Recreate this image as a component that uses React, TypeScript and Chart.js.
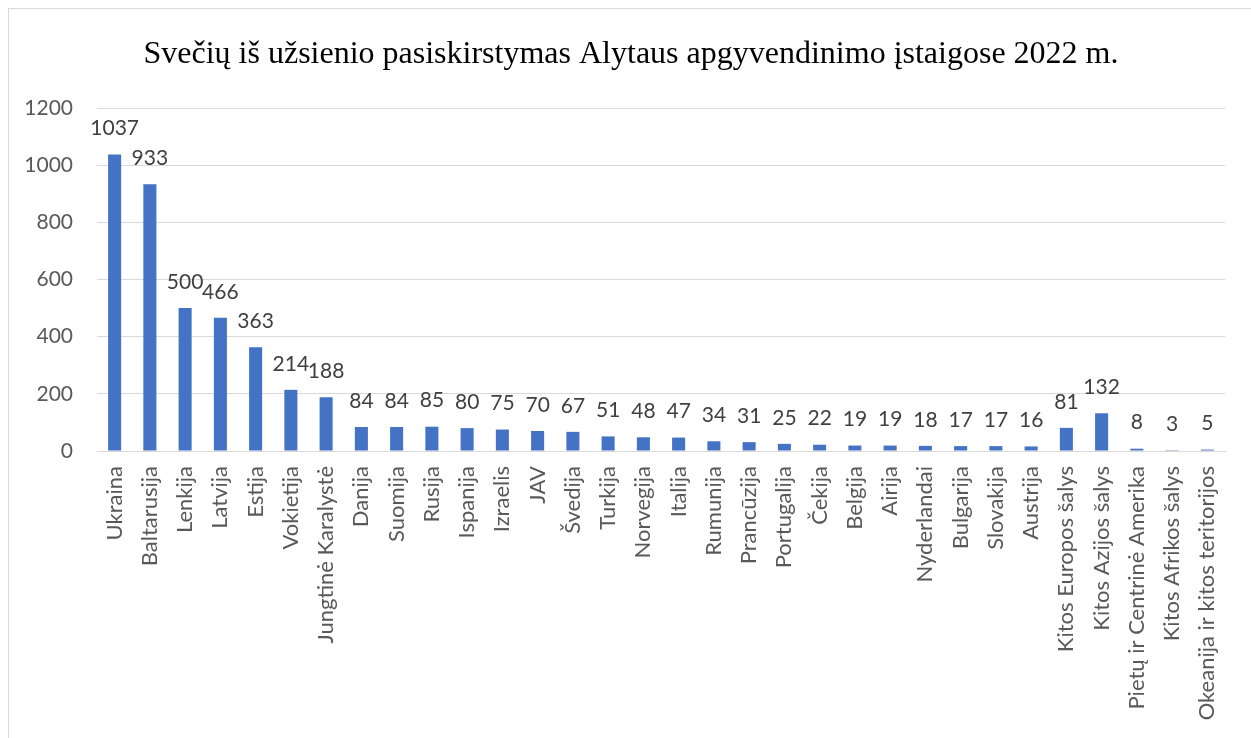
import React, { useEffect, useRef } from "react";
import { Chart, registerables } from "chart.js";

Chart.register(...registerables);

const TITLE = "Svečių iš užsienio pasiskirstymas Alytaus apgyvendinimo įstaigose 2022 m.";

const categories: string[] = [
  "Ukraina", "Baltarusija", "Lenkija", "Latvija", "Estija", "Vokietija",
  "Jungtinė Karalystė", "Danija", "Suomija", "Rusija", "Ispanija", "Izraelis",
  "JAV", "Švedija", "Turkija", "Norvegija", "Italija", "Rumunija", "Prancūzija",
  "Portugalija", "Čekija", "Belgija", "Airija", "Nyderlandai", "Bulgarija",
  "Slovakija", "Austrija", "Kitos Europos šalys", "Kitos Azijos šalys",
  "Pietų ir Centrinė Amerika", "Kitos Afrikos šalys", "Okeanija ir kitos teritorijos",
];

const guests: number[] = [
  1037, 933, 500, 466, 363, 214, 188, 84, 84, 85, 80, 75, 70, 67, 51, 48, 47,
  34, 31, 25, 22, 19, 19, 18, 17, 17, 16, 81, 132, 8, 3, 5,
];

const yTicks: number[] = [0, 200, 400, 600, 800, 1000, 1200];

const FONT = "Lato";

const dataLabels = {
  id: "dataLabels",
  afterDatasetsDraw(chart: any) {
    const ctx = chart.ctx;
    const meta = chart.getDatasetMeta(0);
    ctx.save();
    ctx.font = `21px ${FONT}`;
    ctx.fillStyle = "#404040";
    ctx.textAlign = "center";
    ctx.textBaseline = "middle";
    meta.data.forEach((bar: any, i: number) => {
      ctx.fillText(String(guests[i]), bar.x, bar.y - 26);
    });
    ctx.restore();
  },
};

const centeredTitle = {
  id: "centeredTitle",
  afterDraw(chart: any) {
    const ctx = chart.ctx;
    ctx.save();
    ctx.font = `32px "Liberation Serif"`;
    ctx.fillStyle = "#000000";
    ctx.textAlign = "center";
    ctx.textBaseline = "middle";
    ctx.fillText(TITLE, chart.width / 2 + 1, 46);
    ctx.restore();
  },
};

export default function App() {
  const ref = useRef<HTMLCanvasElement>(null);
  useEffect(() => {
    document.documentElement.style.overflow = "hidden";
    const chart = new Chart(ref.current!, {
      type: "bar",
      data: {
        labels: categories,
        datasets: [
          {
            data: guests,
            backgroundColor: "#4472c4",
            barPercentage: 0.37,
            categoryPercentage: 1,
          },
        ],
      },
      options: {
        animation: false,
        responsive: true,
        maintainAspectRatio: false,
        layout: { padding: { left: 0, right: 26, top: 99, bottom: 0 } },
        plugins: {
          legend: { display: false },
          tooltip: { enabled: false },
          title: { display: false },
        },
        scales: {
          x: {
            grid: { display: false, drawTicks: false },
            border: { display: true, color: "#d9d9d9", width: 1 },
            ticks: {
              color: "#595959",
              font: { family: FONT, size: 22 },
              minRotation: 90,
              maxRotation: 90,
              autoSkip: false,
              padding: 15,
            },
            afterFit: (scale: any) => {
              scale.height = 287;
            },
          },
          y: {
            min: 0,
            max: 1200,
            afterBuildTicks: (scale: any) => {
              scale.ticks = yTicks.map((v) => ({ value: v }));
            },
            grid: { color: "#d9d9d9", lineWidth: 1, drawTicks: false },
            border: { display: false },
            ticks: {
              color: "#595959",
              font: { family: FONT, size: 21 },
              padding: 24,
              callback: (v: any) => String(v),
            },
            afterFit: (scale: any) => {
              scale.width = 88;
            },
          },
        },
      },
      plugins: [dataLabels, centeredTitle],
    });
    return () => chart.destroy();
  }, []);
  return (
    <div
      style={{
        position: "absolute",
        left: 8,
        top: 8,
        width: 1243,
        height: 730,
        boxSizing: "border-box",
        borderTop: "1px solid #d9d9d9",
        borderLeft: "1px solid #d9d9d9",
        background: "#ffffff",
      }}
    >
      <div style={{ position: "relative", width: "100%", height: "100%" }}>
        <canvas ref={ref} />
      </div>
    </div>
  );
}
